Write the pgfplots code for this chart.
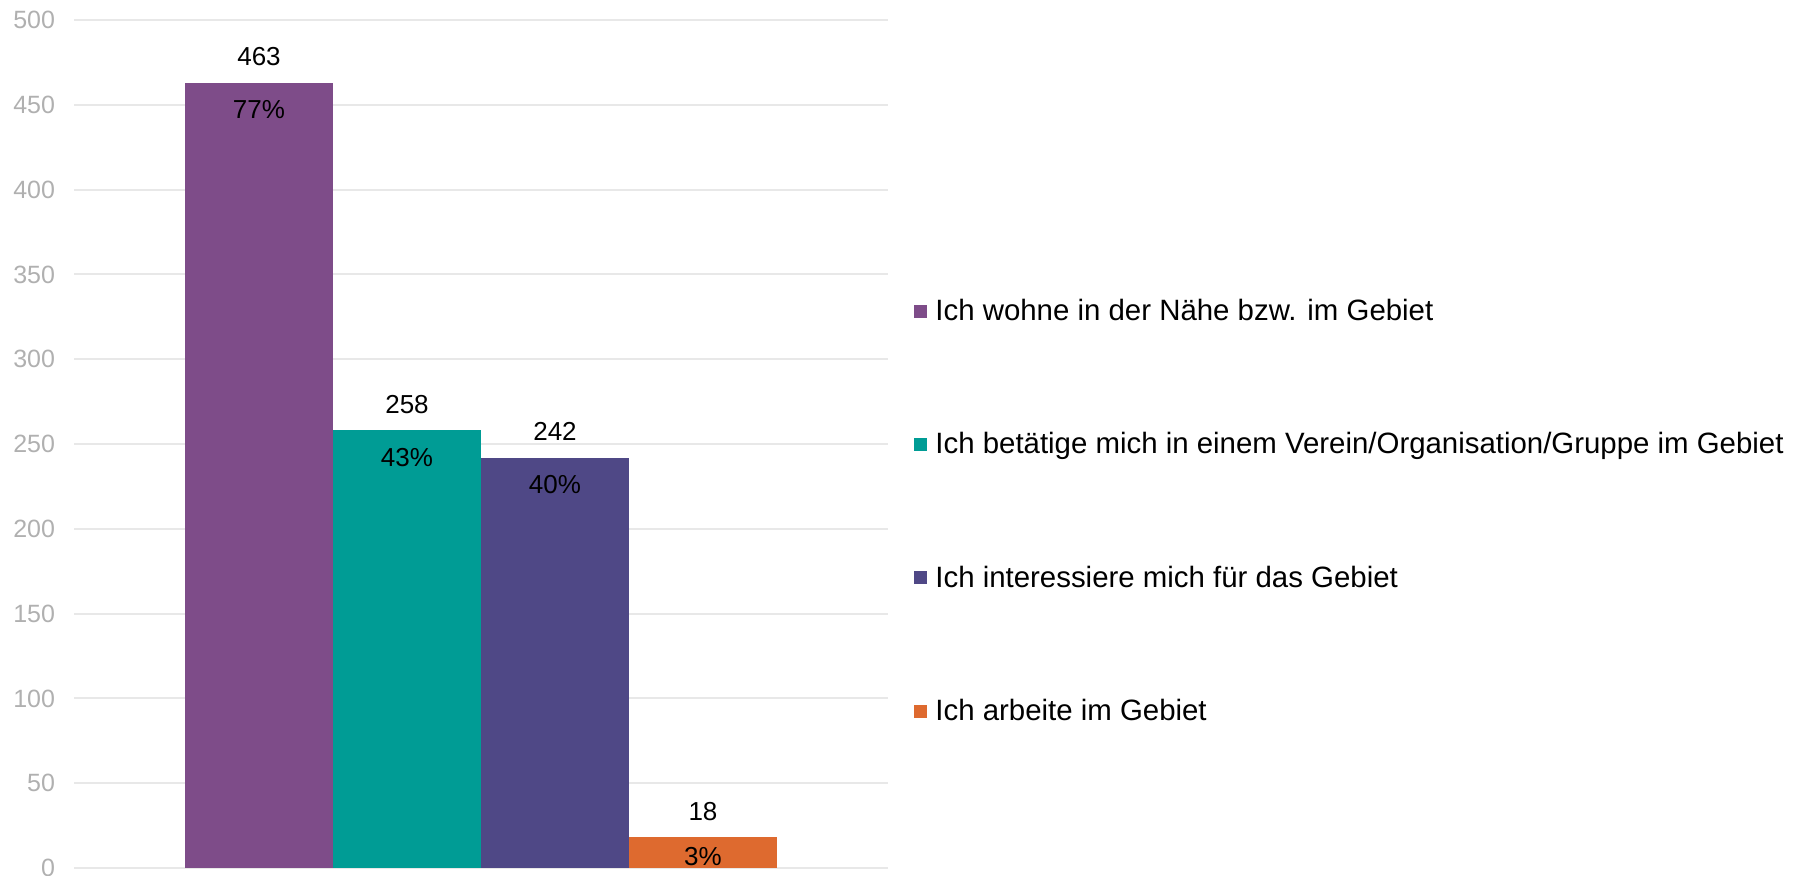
\documentclass[border=0pt]{standalone}
\usepackage{fontspec}
\setmainfont{Liberation Sans}
\usepackage{pgfplots}
\pgfplotsset{compat=1.18}
\definecolor{cA}{HTML}{7E4C89}
\definecolor{cB}{HTML}{009C95}
\definecolor{cC}{HTML}{4F4886}
\definecolor{cD}{HTML}{DE6A2F}
\definecolor{gridgray}{HTML}{E8E8E8}
\definecolor{tickgray}{HTML}{B0B0B0}
\newcommand{\legsq}[1]{\fill[#1] (0pt,-3.25pt) rectangle (6.5pt,3.25pt); \path (10.5pt,0pt);}
\begin{document}
\begin{tikzpicture}
\useasboundingbox (0,0) rectangle (901.5pt,437.5pt);
\begin{axis}[
  at={(37pt,3.5pt)}, anchor=south west,
  scale only axis, width=407pt, height=424pt,
  xmin=-1.25, xmax=4.25, ymin=0, ymax=500,
  axis line style={draw=none},
  major tick length=0pt,
  xtick=\empty,
  ytick={0,50,...,500},
  ymajorgrids,
  grid style={draw=gridgray, line width=1pt},
  yticklabel style={font=\fontsize{12.5}{14}\selectfont, text=tickgray, anchor=east, inner sep=0pt, xshift=-9.3pt},
  /pgf/number format/assume math mode=true,
  clip=false,
  legend style={at={(1.032,0.4206)}, anchor=west, draw=none, fill=none, inner sep=0pt,
    font=\fontsize{14.7}{16}\selectfont, row sep=54.5pt, nodes={inner sep=0pt}},
  legend cell align=left,
  every node near coord/.append style={font=\fontsize{13}{15}\selectfont, text=black},
]
% visible bars with value labels
\addplot[ybar, bar width=1, bar shift=0pt, fill=cA, draw=none, nodes near coords,
  every node near coord/.append style={anchor=center, yshift=13pt},
  legend image code/.code={\legsq{cA}}] coordinates {(0,463)};
\addplot[ybar, bar width=1, bar shift=0pt, fill=cB, draw=none, nodes near coords,
  every node near coord/.append style={anchor=center, yshift=13pt},
  legend image code/.code={\legsq{cB}}] coordinates {(1,258)};
\addplot[ybar, bar width=1, bar shift=0pt, fill=cC, draw=none, nodes near coords,
  every node near coord/.append style={anchor=center, yshift=13pt},
  legend image code/.code={\legsq{cC}}] coordinates {(2,242)};
\addplot[ybar, bar width=1, bar shift=0pt, fill=cD, draw=none, nodes near coords,
  every node near coord/.append style={anchor=center, yshift=13pt},
  legend image code/.code={\legsq{cD}}] coordinates {(3,18)};
% percentage labels
\addplot[ybar, bar width=1, bar shift=0pt, draw=none, fill=none, forget plot,
  point meta=explicit symbolic, nodes near coords={\pgfplotspointmeta\%},
  every node near coord/.append style={anchor=center, yshift=-13.5pt}]
  coordinates {(0,463) [77] (1,258) [43] (2,242) [40]};
\addplot[ybar, bar width=1, bar shift=0pt, draw=none, fill=none, forget plot,
  point meta=explicit symbolic, nodes near coords={\pgfplotspointmeta\%},
  every node near coord/.append style={anchor=center, yshift=-9.5pt}]
  coordinates {(3,18) [3]};
\legend{Ich wohne in der Nähe bzw. im Gebiet,
  Ich betätige mich in einem Verein/Organisation/Gruppe im Gebiet,
  Ich interessiere mich für das Gebiet,
  Ich arbeite im Gebiet}
\end{axis}
\end{tikzpicture}
\end{document}
